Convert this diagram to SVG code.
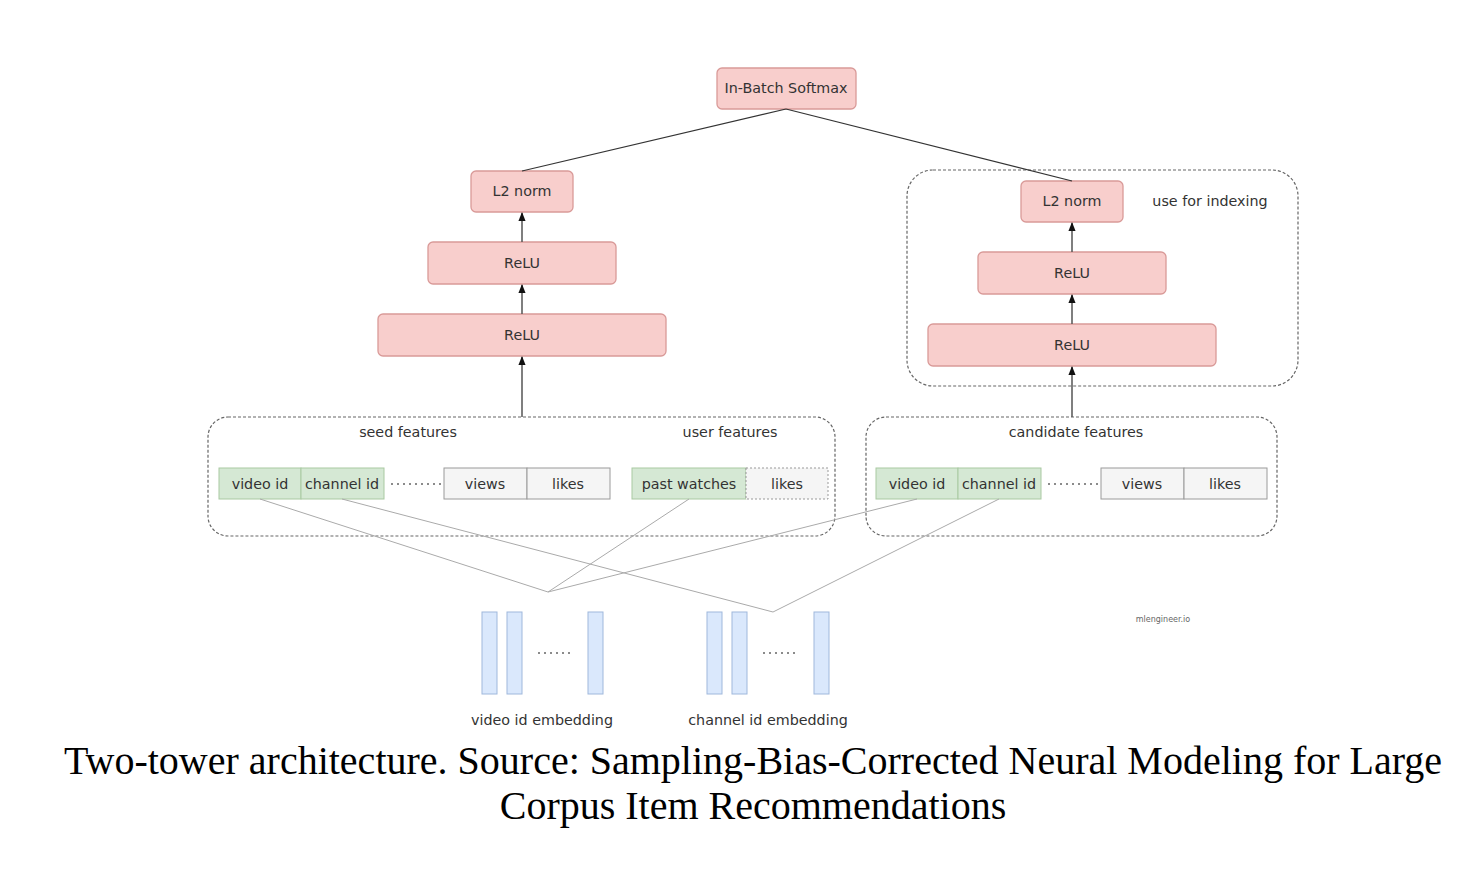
<svg xmlns="http://www.w3.org/2000/svg" width="1470" height="886" viewBox="0 0 1470 886">
<defs>
<style>
.t{font-family:"DejaVu Sans",Verdana,sans-serif;font-size:14.3px;fill:#333;text-anchor:middle;dominant-baseline:central}
.red{fill:#f8cecc;stroke:#d99a98;stroke-width:1.3}
.grn{fill:#d5e8d4;stroke:#a9c9a2;stroke-width:1}
.gry{fill:#f5f5f5;stroke:#9a9a9a;stroke-width:1}
.blu{fill:#dae8fc;stroke:#9fb8dc;stroke-width:1}
.dash{fill:none;stroke:#666;stroke-width:1.2;stroke-dasharray:3 2}
.dots{stroke:#666;stroke-width:1.5;stroke-dasharray:2 4}
.cap{font-family:"Liberation Serif","Times New Roman",serif;font-size:40px;fill:#000;text-anchor:middle}
.ar{stroke:#555;stroke-width:1.5;fill:none}
.thin{stroke:#aaa;stroke-width:1;fill:none}
.edge{stroke:#333;stroke-width:1.2;fill:none}
</style>
<marker id="arr" viewBox="0 0 10 10" refX="9" refY="5" markerWidth="6" markerHeight="6" orient="auto">
<path d="M0,1 L10,5 L0,9 Z" fill="#111"/>
</marker>
</defs>
<rect width="1470" height="886" fill="#fff"/>

<g id="candidate-tower-box"><rect class="dash" x="907" y="170" width="391" height="216" rx="26"/><text class="t" x="1210" y="201">use for indexing</text></g>

<g id="softmax"><rect class="red" x="717" y="68" width="139" height="41" rx="5"/><text class="t" x="786" y="88">In-Batch Softmax</text></g>

<g id="left-l2"><rect class="red" x="471" y="171" width="102" height="41" rx="5"/><text class="t" x="522" y="191">L2 norm</text></g>
<g id="left-relu1"><rect class="red" x="428" y="242" width="188" height="42" rx="5"/><text class="t" x="522" y="263">ReLU</text></g>
<g id="left-relu2"><rect class="red" x="378" y="314" width="288" height="42" rx="5"/><text class="t" x="522" y="335">ReLU</text></g>

<g id="right-l2"><rect class="red" x="1021" y="181" width="102" height="41" rx="5"/><text class="t" x="1072" y="201">L2 norm</text></g>
<g id="right-relu1"><rect class="red" x="978" y="252" width="188" height="42" rx="5"/><text class="t" x="1072" y="273">ReLU</text></g>
<g id="right-relu2"><rect class="red" x="928" y="324" width="288" height="42" rx="5"/><text class="t" x="1072" y="345">ReLU</text></g>

<g id="query-features">
<rect class="dash" x="208" y="417" width="627" height="119" rx="20"/>
<text class="t" x="408" y="432">seed features</text>
<text class="t" x="730" y="432">user features</text>
<rect class="grn" x="219" y="468" width="82" height="31"/><text class="t" x="260" y="484">video id</text>
<rect class="grn" x="301" y="468" width="83" height="31"/><text class="t" x="342" y="484">channel id</text>
<line class="dots" x1="391" y1="484" x2="443" y2="484"/>
<rect class="gry" x="444" y="468" width="83" height="31"/><text class="t" x="485" y="484">views</text>
<rect class="gry" x="527" y="468" width="83" height="31"/><text class="t" x="568" y="484">likes</text>
<rect class="grn" x="632" y="468" width="114" height="31"/><text class="t" x="689" y="484">past watches</text>
<rect x="746" y="468" width="82" height="31" fill="#f5f5f5" stroke="#999" stroke-width="1" stroke-dasharray="2 2"/><text class="t" x="787" y="484">likes</text>
</g>

<g id="candidate-features">
<rect class="dash" x="866" y="417" width="411" height="119" rx="20"/>
<text class="t" x="1076" y="432">candidate features</text>
<rect class="grn" x="876" y="468" width="82" height="31"/><text class="t" x="917" y="484">video id</text>
<rect class="grn" x="958" y="468" width="83" height="31"/><text class="t" x="999" y="484">channel id</text>
<line class="dots" x1="1048" y1="484" x2="1100" y2="484"/>
<rect class="gry" x="1101" y="468" width="83" height="31"/><text class="t" x="1142" y="484">views</text>
<rect class="gry" x="1184" y="468" width="83" height="31"/><text class="t" x="1225" y="484">likes</text>
</g>

<g id="video-id-embedding">
<rect class="blu" x="482" y="612" width="15" height="82"/>
<rect class="blu" x="507" y="612" width="15" height="82"/>
<rect class="blu" x="588" y="612" width="15" height="82"/>
<line class="dots" x1="538" y1="653" x2="574" y2="653" stroke-width="1.2"/>
<text class="t" x="542" y="720">video id embedding</text>
</g>
<g id="channel-id-embedding">
<rect class="blu" x="707" y="612" width="15" height="82"/>
<rect class="blu" x="732" y="612" width="15" height="82"/>
<rect class="blu" x="814" y="612" width="15" height="82"/>
<line class="dots" x1="763" y1="653" x2="799" y2="653" stroke-width="1.2"/>
<text class="t" x="768" y="720">channel id embedding</text>
</g>

<g id="connectors">
<line class="edge" x1="786" y1="109" x2="522" y2="171"/>
<line class="edge" x1="786" y1="109" x2="1072" y2="181"/>
<line class="ar" x1="522" y1="242" x2="522" y2="213" marker-end="url(#arr)"/>
<line class="ar" x1="522" y1="314" x2="522" y2="285" marker-end="url(#arr)"/>
<line class="ar" x1="522" y1="417" x2="522" y2="357" marker-end="url(#arr)"/>
<line class="ar" x1="1072" y1="252" x2="1072" y2="223" marker-end="url(#arr)"/>
<line class="ar" x1="1072" y1="324" x2="1072" y2="295" marker-end="url(#arr)"/>
<line class="ar" x1="1072" y1="417" x2="1072" y2="367" marker-end="url(#arr)"/>
<polyline class="thin" points="260,499 548,592 689,499"/>
<line class="thin" x1="548" y1="592" x2="917" y2="499"/>
<polyline class="thin" points="342,499 773,612 999,499"/>
</g>

<text x="1163" y="619" font-family="DejaVu Sans,sans-serif" font-size="8" fill="#666" text-anchor="middle" dominant-baseline="central">mlengineer.io</text>

<text class="cap" x="753" y="774">Two-tower architecture. Source: Sampling-Bias-Corrected Neural Modeling for Large</text>
<text class="cap" x="753" y="819">Corpus Item Recommendations</text>
</svg>
